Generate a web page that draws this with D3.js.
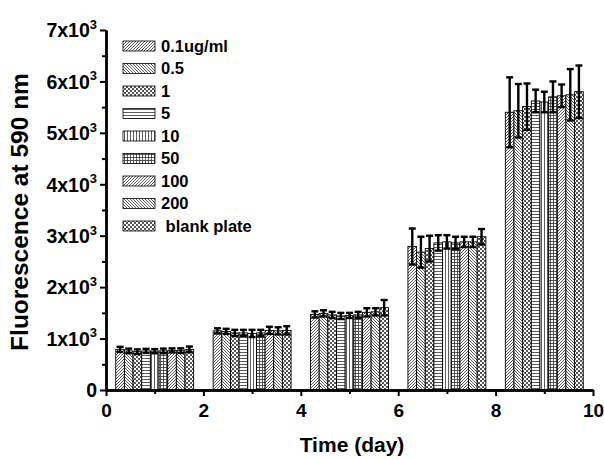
<!DOCTYPE html>
<html>
<head>
<meta charset="utf-8">
<script src="https://cdn.jsdelivr.net/npm/d3@7"></script>
<style>
  body { margin: 0; background: #fff; }
  svg text { font-family: Arial, "Liberation Sans", sans-serif; font-weight: bold; }
</style>
</head>
<body>
<div id="chart"></div>
<script>
// days at which groups are centred
const days = [1, 3, 5, 7, 9];
const seriesNames = ["0.1ug/ml", "0.5", "1", "5", "10", "50", "100", "200", " blank plate"];

// values per series (one per day)
const s01   = [790, 1150, 1470, 2790, 5400];
const s05   = [760, 1140, 1490, 2680, 5430];
const s1    = [745, 1110, 1460, 2750, 5510];
const s5    = [760, 1110, 1440, 2860, 5620];
const s10   = [755, 1100, 1450, 2880, 5600];
const s50   = [760, 1110, 1460, 2860, 5700];
const s100  = [770, 1160, 1510, 2880, 5720];
const s200  = [765, 1150, 1520, 2880, 5740];
const sBlank= [790, 1160, 1600, 2980, 5800];

// error (+/-) per series
const e01   = [50, 50, 60, 350, 680];
const e05   = [45, 50, 60, 300, 520];
const e1    = [45, 60, 60, 250, 450];
const e5    = [40, 60, 60, 150, 220];
const e10   = [40, 70, 50, 130, 200];
const e50   = [45, 60, 60, 120, 300];
const e100  = [40, 70, 80, 100, 220];
const e200  = [45, 70, 70, 100, 500];
const eBlank= [55, 80, 150, 150, 510];

const values = [s01, s05, s1, s5, s10, s50, s100, s200, sBlank];
const errors = [e01, e05, e1, e5, e10, e50, e100, e200, eBlank];
const patternIds = ["p-fwd", "p-back", "p-check", "p-horiz", "p-vert", "p-grid", "p-fwd", "p-back", "p-check"];

const xMajor = [0, 2, 4, 6, 8, 10];
const xMinor = [1, 3, 5, 7, 9];
const yMajor = [0, 1000, 2000, 3000, 4000, 5000, 6000, 7000];
const yMinor = [500, 1500, 2500, 3500, 4500, 5500, 6500];

const W = 604, H = 460;
const svg = d3.select("#chart").append("svg").attr("width", W).attr("height", H);

const x = d3.scaleLinear().domain([0, 10]).range([106, 593]);
const y = d3.scaleLinear().domain([0, 7000]).range([390, 30]);

// patterns
const defs = svg.append("defs");
function pat(id, size, draw) {
  const p = defs.append("pattern").attr("id", id)
    .attr("patternUnits", "userSpaceOnUse").attr("width", size).attr("height", size);
  p.append("rect").attr("width", size).attr("height", size).attr("fill", "#fff");
  draw(p);
}
const pc = "#333";
pat("p-fwd", 3, p => {
  p.append("path").attr("d", "M0,3 L3,0 M-1,1 L1,-1 M2,4 L4,2").attr("stroke", pc).attr("stroke-width", 0.8);
});
pat("p-back", 3, p => {
  p.append("path").attr("d", "M0,0 L3,3 M-1,2 L1,4 M2,-1 L4,1").attr("stroke", pc).attr("stroke-width", 0.8);
});
pat("p-check", 4, p => {
  p.append("rect").attr("x", 0).attr("y", 0).attr("width", 2).attr("height", 2).attr("fill", "#555");
  p.append("rect").attr("x", 2).attr("y", 2).attr("width", 2).attr("height", 2).attr("fill", "#555");
});
pat("p-horiz", 3, p => {
  p.append("path").attr("d", "M0,1.5 L3,1.5").attr("stroke", pc).attr("stroke-width", 0.8);
});
pat("p-vert", 3, p => {
  p.append("path").attr("d", "M1.5,0 L1.5,3").attr("stroke", pc).attr("stroke-width", 0.8);
});
pat("p-grid", 3, p => {
  p.append("path").attr("d", "M0,1.5 L3,1.5 M1.5,0 L1.5,3").attr("stroke", pc).attr("stroke-width", 0.8);
});

// bars
const groupHalf = 0.8;
const bandDays = (2 * groupHalf) / seriesNames.length;
const rows = [];
days.forEach((d, gi) => {
  seriesNames.forEach((name, si) => {
    const x0 = d - groupHalf + si * bandDays;
    rows.push({ x0: x0, x1: x0 + bandDays, v: values[si][gi], e: errors[si][gi], pid: patternIds[si] });
  });
});

svg.append("g").selectAll("rect").data(rows).enter().append("rect")
  .attr("x", r => x(r.x0))
  .attr("width", r => x(r.x1) - x(r.x0))
  .attr("y", r => y(r.v))
  .attr("height", r => y(0) - y(r.v))
  .attr("fill", r => `url(#${r.pid})`)
  .attr("stroke", "#000").attr("stroke-width", 0.9);

// error bars
const eg = svg.append("g").attr("stroke", "#000").attr("stroke-width", 2.4);
rows.forEach(r => {
  const cx = x((r.x0 + r.x1) / 2);
  const cw = 3.5;
  eg.append("line").attr("x1", cx).attr("x2", cx).attr("y1", y(r.v + r.e)).attr("y2", y(r.v - r.e));
  eg.append("line").attr("x1", cx - cw).attr("x2", cx + cw).attr("y1", y(r.v + r.e)).attr("y2", y(r.v + r.e));
  eg.append("line").attr("x1", cx - cw).attr("x2", cx + cw).attr("y1", y(r.v - r.e)).attr("y2", y(r.v - r.e));
});

// axes
const xAxis = svg.append("g").attr("transform", `translate(0,${y(0)})`)
  .call(d3.axisBottom(x).tickValues(xMajor).tickSize(6).tickSizeOuter(0).tickPadding(8));
svg.append("g").attr("transform", `translate(0,${y(0)})`)
  .call(d3.axisBottom(x).tickValues(xMinor).tickSize(4).tickSizeOuter(0).tickFormat(""));
const yAxis = svg.append("g").attr("transform", `translate(${x(0)},0)`)
  .call(d3.axisLeft(y).tickValues(yMajor).tickSize(6).tickSizeOuter(0).tickFormat(""));
svg.append("g").attr("transform", `translate(${x(0)},0)`)
  .call(d3.axisLeft(y).tickValues(yMinor).tickSize(4).tickSizeOuter(0).tickFormat(""));

svg.selectAll(".domain").attr("stroke-width", 2.4);
svg.selectAll(".tick line").attr("stroke-width", 2);
xAxis.selectAll("text").attr("font-size", 19).attr("fill", "#000");

// y tick labels with superscript
yAxis.selectAll(".tick").each(function(d) {
  const t = d3.select(this).append("text")
    .attr("x", -9).attr("dy", "0.35em").attr("text-anchor", "end")
    .attr("font-size", 19.5).attr("fill", "#000");
  if (d === 0) {
    t.text("0");
  } else {
    t.append("tspan").text(`${d / 1000}x10`);
    t.append("tspan").attr("font-size", 13).attr("dy", "-0.65em").text("3");
  }
});

// axis titles
svg.append("text").attr("x", 352).attr("y", 452).attr("text-anchor", "middle")
  .attr("font-size", 21).text("Time (day)");
svg.append("text").attr("transform", `translate(28,212) rotate(-90)`)
  .attr("text-anchor", "middle").attr("font-size", 24.5).text("Fluorescence at 590 nm");

// legend
const lg = svg.append("g");
seriesNames.forEach((name, i) => {
  const cy = 46 + i * 22.5;
  lg.append("rect").attr("x", 123).attr("y", cy - 5).attr("width", 32).attr("height", 10)
    .attr("fill", `url(#${patternIds[i]})`).attr("stroke", "#000").attr("stroke-width", 0.8);
  lg.append("text").attr("x", 161).attr("y", cy).attr("dy", "0.35em")
    .attr("font-size", 16.5).attr("xml:space", "preserve").style("white-space", "pre").text(name);
});
</script>
</body>
</html>
